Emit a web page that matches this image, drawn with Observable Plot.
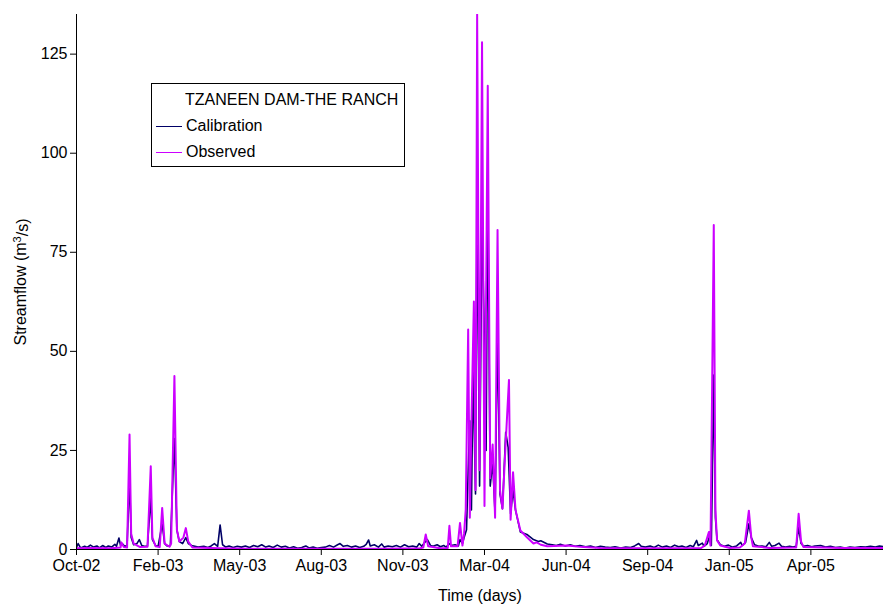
<!DOCTYPE html>
<html>
<head>
<meta charset="utf-8">
<script src="https://cdn.jsdelivr.net/npm/d3@7"></script>
<script src="https://cdn.jsdelivr.net/npm/@observablehq/plot@0.6"></script>
<style>
  html, body { margin: 0; padding: 0; background: #fff; }
  #wrap { position: relative; width: 883px; height: 606px; font-family: "Liberation Sans", Arial, sans-serif; }
  #legend { position: absolute; left: 151px; top: 83px; width: 252px; height: 82px; border: 1px solid #000; background: #fff; font-size: 16px; color: #000; }
  #legend .title { position: absolute; left: 33px; top: 7px; white-space: nowrap; }
  #legend .row { position: absolute; left: 4px; white-space: nowrap; display: flex; align-items: center; }
  #legend .sw { width: 26px; height: 0; border-top: 1.5px solid; margin-right: 4px; }
</style>
</head>
<body>
<div id="wrap">
  <div id="chart"></div>
  <div id="legend">
    <div class="title" id="lgTitle"></div>
    <div class="row" style="top:33px"><span class="sw" id="sw0"></span><span id="lg0"></span></div>
    <div class="row" style="top:59px"><span class="sw" id="sw1"></span><span id="lg1"></span></div>
  </div>
</div>
<script>
// ---- Data (x = days since the start of the axis, Oct 2002) ----
const stationName = "TZANEEN DAM-THE RANCH";
const seriesNames = ["Calibration", "Observed"];
const seriesColors = ["#000066", "#cc00ff"];

const tickDays = [0, 100, 200, 300, 400, 500, 600, 700, 800, 900];
const tickLabels = ["Oct-02", "Feb-03", "May-03", "Aug-03", "Nov-03", "Mar-04", "Jun-04", "Sep-04", "Jan-05", "Apr-05"];
const yTicks = [0, 25, 50, 75, 100, 125];

const obsDays = [0, 17, 42, 54, 55, 58, 62, 65, 67, 70, 78, 87, 91, 93, 97, 102, 105, 108, 114, 116, 120, 123, 126, 131, 134, 137, 142, 176, 213, 274, 323, 372, 421, 425, 428, 431, 446, 455, 457, 459, 467, 470, 473, 475, 477, 480, 482, 484, 487, 489, 491, 494, 497, 500, 504, 507, 510, 513, 516, 519, 522, 526, 530, 532, 535, 538, 544, 552, 560, 564, 569, 577, 601, 621, 642, 703, 765, 770, 775, 777, 781, 783, 785, 789, 801, 813, 819, 824, 827, 829, 850, 882, 885, 888, 891, 936, 989];
const obsVals = [0.3, 0.4, 0.3, 0.5, 1.8, 0.6, 0.5, 29, 4, 1.5, 0.6, 0.7, 21, 3, 0.8, 0.6, 10.5, 1.5, 0.7, 1.5, 43.8, 5, 2, 3, 5.4, 2, 0.5, 0.3, 0.2, 0.2, 0.2, 0.2, 0.3, 0.5, 3.8, 0.8, 0.3, 0.4, 6, 0.8, 0.8, 6.7, 1, 4, 10, 55.5, 8, 32, 62.6, 15, 135, 20, 128, 11, 117, 18, 26.5, 8, 80.6, 15, 10.3, 27, 42.8, 7.5, 19.5, 10, 4.8, 3.1, 1.5, 1.8, 1.2, 0.8, 1.0, 0.6, 0.4, 0.3, 0.3, 1, 4.4, 1, 81.9, 10, 2.3, 1, 0.4, 0.5, 1.5, 9.8, 3, 0.8, 0.4, 0.5, 9, 2, 0.6, 0.4, 0.4];

const calDays = [0, 2, 5, 10, 13, 17, 21, 25, 28, 32, 36, 39, 43, 47, 49, 52, 54, 56, 59, 62, 65, 67, 70, 74, 77, 80, 83, 87, 91, 93, 97, 100, 105, 108, 111, 115, 120, 123, 126, 130, 134, 137, 141, 145, 149, 156, 161, 165, 169, 173, 176, 179, 183, 187, 192, 197, 202, 207, 212, 217, 222, 227, 232, 236, 241, 246, 251, 256, 261, 266, 271, 276, 281, 285, 290, 295, 300, 305, 310, 315, 320, 323, 327, 332, 337, 342, 347, 352, 355, 358, 360, 365, 370, 374, 377, 382, 387, 392, 397, 402, 407, 412, 417, 420, 423, 426, 430, 434, 437, 442, 446, 450, 453, 457, 459, 464, 468, 470, 473, 475, 478, 480, 482, 484, 486, 489, 491, 494, 497, 500, 502, 504, 507, 510, 513, 516, 519, 522, 526, 529, 532, 535, 538, 544, 552, 560, 566, 569, 577, 583, 588, 593, 599, 605, 611, 617, 624, 630, 636, 642, 648, 654, 660, 667, 673, 679, 684, 689, 692, 697, 703, 708, 713, 718, 723, 728, 733, 738, 742, 747, 752, 756, 760, 762, 767, 769, 773, 776, 778, 781, 783, 785, 789, 794, 799, 804, 809, 814, 816, 820, 824, 827, 831, 836, 840, 845, 849, 852, 856, 861, 864, 869, 874, 878, 882, 885, 888, 891, 896, 901, 905, 912, 918, 924, 930, 936, 942, 948, 954, 961, 967, 973, 979, 984, 989];
const calVals = [0.5, 1.5, 0.4, 0.8, 0.5, 1.1, 0.6, 0.9, 0.4, 1.0, 0.5, 0.9, 0.6, 1.3, 0.8, 2.9, 1.0, 1.5, 0.8, 1.0, 18, 3, 1.2, 1.5, 2.5, 1.0, 0.8, 0.9, 13.2, 2.5, 1.0, 0.8, 6.5, 1.5, 0.9, 1.0, 28, 5, 2, 1.5, 3, 1.5, 1, 0.8, 0.6, 0.8, 0.5, 0.9, 1.5, 0.8, 6.2, 1.2, 0.6, 0.9, 0.5, 0.8, 0.6, 0.9, 0.5, 1.0, 0.7, 1.2, 0.6, 0.9, 0.5, 1.1, 0.6, 0.8, 0.4, 0.7, 0.3, 0.5, 0.9, 0.4, 0.6, 0.3, 0.5, 0.6, 1.0, 0.6, 1.2, 1.5, 0.8, 1.0, 0.6, 0.9, 0.5, 0.8, 1.3, 2.4, 0.9, 1.2, 0.6, 1.4, 0.6, 0.9, 0.7, 1.0, 0.6, 1.2, 0.7, 0.9, 0.6, 1.5, 0.8, 1.6, 2.5, 1.0, 0.8, 1.2, 0.7, 1.0, 0.6, 1.5, 1.0, 1.2, 0.9, 2.5, 1.5, 3, 5, 20, 32.5, 10, 45, 14, 88, 16, 84, 51, 25, 92, 16, 22, 9, 55, 14, 10.3, 29.6, 25.8, 9, 15, 10, 4.4, 3.8, 2.5, 2.0, 2.2, 1.4, 1.2, 1.0, 1.3, 0.9, 1.2, 0.8, 1.0, 0.7, 0.9, 0.5, 0.8, 0.6, 0.5, 0.7, 0.4, 0.6, 0.5, 0.9, 1.5, 0.8, 0.6, 0.9, 0.5, 1.1, 0.6, 0.9, 0.5, 1.1, 0.7, 0.9, 0.5, 1.0, 0.7, 2.3, 1.0, 1.6, 0.8, 1.5, 3.5, 1, 44, 8, 2.5, 1.2, 0.8, 1.1, 0.6, 0.9, 1.8, 1.0, 1.8, 6.5, 3, 1.2, 0.8, 0.9, 0.7, 1.8, 0.8, 1.0, 1.6, 0.8, 0.6, 0.8, 0.6, 0.8, 5.6, 1.5, 0.8, 1.0, 0.7, 0.9, 1.0, 0.6, 0.8, 0.5, 0.6, 0.4, 0.6, 0.5, 0.7, 0.6, 0.8, 0.6, 0.9, 0.7];

// ---- Build tables ----
const cal = calDays.map((d, i) => ({day: d, value: calVals[i]}));
const obs = obsDays.map((d, i) => ({day: d, value: obsVals[i]}));

const yLabel = "Streamflow (m³/s)";

const chart = Plot.plot({
  width: 883,
  height: 606,
  marginLeft: 76,
  marginRight: 0,
  marginTop: 14,
  marginBottom: 57,
  style: {fontFamily: "'Liberation Sans', Arial, sans-serif", fontSize: "16px", color: "#000", background: "#fff", overflow: "visible"},
  x: {domain: [0, 989]},
  y: {domain: [0, 135]},
  marks: [
    Plot.line(cal, {x: "day", y: "value", stroke: seriesColors[0], strokeWidth: 1.6, clip: true}),
    Plot.line(obs, {x: "day", y: "value", stroke: seriesColors[1], strokeWidth: 2, clip: true}),
    Plot.ruleX([0], {stroke: "#000", strokeWidth: 1}),
    Plot.ruleY([0], {stroke: "#000", strokeWidth: 1}),
    Plot.axisX({ticks: tickDays, tickFormat: d => tickLabels[tickDays.indexOf(d)], tickSize: 6, tickPadding: 4, stroke: "#000",
      label: "Time (days)", labelAnchor: "center", labelArrow: "none", labelOffset: 51}),
    Plot.axisY({ticks: yTicks, tickSize: 6, tickPadding: 3, stroke: "#000",
      label: yLabel, labelAnchor: "center", labelArrow: "none", labelOffset: 62})
  ]
});
document.getElementById("chart").appendChild(chart);

// render the cubic exponent as a real superscript
d3.select(chart).selectAll("text").each(function() {
  if (this.textContent === yLabel) {
    const t = d3.select(this);
    t.text(null);
    t.append("tspan").text("Streamflow (m");
    t.append("tspan").attr("dy", "-0.45em").attr("font-size", "11px").text("3");
    t.append("tspan").attr("dy", "0.45em").text("/s)");
  }
});

document.getElementById("lgTitle").textContent = stationName;
document.getElementById("lg0").textContent = seriesNames[0];
document.getElementById("lg1").textContent = seriesNames[1];
document.getElementById("sw0").style.borderColor = seriesColors[0];
document.getElementById("sw1").style.borderColor = seriesColors[1];
</script>
</body>
</html>
